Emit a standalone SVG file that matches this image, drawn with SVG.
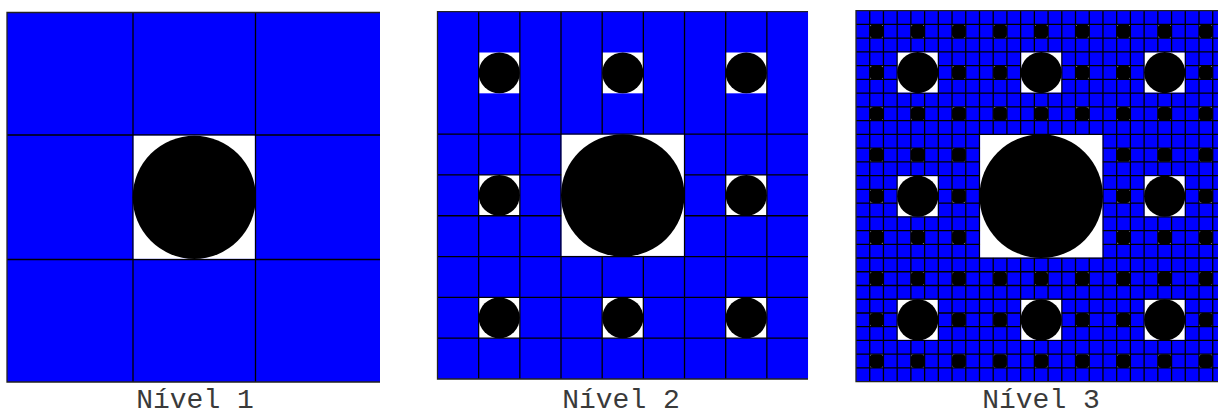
<svg xmlns="http://www.w3.org/2000/svg" xmlns:xlink="http://www.w3.org/1999/xlink" width="1220" height="416" viewBox="0 0 1220 416">
<style>
.bg{fill:#0000ff}
.grid{fill:none;stroke:#000;stroke-width:1.3;vector-effect:non-scaling-stroke}
.hole{fill:#fff}
.disc{fill:#000}
.edge{fill:none;stroke:#222;stroke-width:1.3;vector-effect:non-scaling-stroke}
.lbl{font-family:"Liberation Mono","Courier New",monospace;font-size:28px;fill:#3a3a3a;text-anchor:middle}
</style>
<defs>
  <clipPath id="clip3"><rect x="850" y="5" width="368" height="382"/></clipPath>
  <g id="dot"><rect class="hole" width="1" height="1"/><circle class="disc" cx="0.5" cy="0.5" r="0.5"/></g>
  <g id="dot3"><rect class="hole" width="1" height="1"/><rect class="disc" width="1" height="1" rx="0.27" ry="0.27"/></g>
  <g id="dots9">
    <use href="#dot" x="1" y="1"/><use href="#dot" x="4" y="1"/><use href="#dot" x="7" y="1"/>
    <use href="#dot" x="1" y="4"/><use href="#dot" x="7" y="4"/>
    <use href="#dot" x="1" y="7"/><use href="#dot" x="4" y="7"/><use href="#dot" x="7" y="7"/>
  </g>
  <g id="dots9s">
    <use href="#dot3" x="1" y="1"/><use href="#dot3" x="4" y="1"/><use href="#dot3" x="7" y="1"/>
    <use href="#dot3" x="1" y="4"/><use href="#dot3" x="7" y="4"/>
    <use href="#dot3" x="1" y="7"/><use href="#dot3" x="4" y="7"/><use href="#dot3" x="7" y="7"/>
  </g>
  <g id="sq3"><rect class="hole" x="0.047" y="0.047" width="2.906" height="2.906"/><circle class="disc" cx="1.5" cy="1.5" r="1.5"/></g>
</defs>

<!-- Nivel 1 -->
<g id="panel1">
  <rect class="bg" x="7" y="12.5" width="373" height="369.5"/>
  <path class="grid" d="M133 12.5V382M255.5 12.5V382M7 135H380M7 259.5H380"/>
  <rect class="hole" x="133.7" y="135.7" width="121.1" height="123.1"/>
  <circle class="disc" cx="194.3" cy="197.3" r="61.6"/>
  <path class="edge" d="M380 12.5H7V382H380"/>
</g>

<!-- Nivel 2 -->
<g id="panel2">
  <g transform="translate(437.5 11.7) scale(41.17 40.81)">
    <rect class="bg" width="9" height="9"/>
    <use href="#dots9"/>
    <path class="grid" d="M1 0V9M2 0V9M3 0V9M4 0V9M5 0V9M6 0V9M7 0V9M8 0V9M0 3H9M0 4H9M0 5H9M0 6H9M0 7H9M0 8H9"/>
    <rect class="hole" x="3.016" y="3.016" width="2.968" height="2.968"/>
    <circle class="disc" cx="4.5" cy="4.5" r="1.5"/>
    <path class="edge" d="M9 0H0V9H9"/>
  </g>
</g>

<!-- Nivel 3 -->
<g id="panel3" clip-path="url(#clip3)">
  <g transform="translate(856 10.7) scale(13.72 13.74)">
    <rect class="bg" width="27" height="27"/>
    <use href="#dots9s" x="0" y="0"/><use href="#dots9s" x="9" y="0"/><use href="#dots9s" x="18" y="0"/>
    <use href="#dots9s" x="0" y="9"/><use href="#dots9s" x="18" y="9"/>
    <use href="#dots9s" x="0" y="18"/><use href="#dots9s" x="9" y="18"/><use href="#dots9s" x="18" y="18"/>
    <path class="grid" d="M1 0V27M2 0V27M3 0V27M4 0V27M5 0V27M6 0V27M7 0V27M8 0V27M9 0V27M10 0V27M11 0V27M12 0V27M13 0V27M14 0V27M15 0V27M16 0V27M17 0V27M18 0V27M19 0V27M20 0V27M21 0V27M22 0V27M23 0V27M24 0V27M25 0V27M26 0V27M0 1H27M0 2H27M0 3H27M0 4H27M0 5H27M0 6H27M0 7H27M0 8H27M0 9H27M0 10H27M0 11H27M0 12H27M0 13H27M0 14H27M0 15H27M0 16H27M0 17H27M0 18H27M0 19H27M0 20H27M0 21H27M0 22H27M0 23H27M0 24H27M0 25H27M0 26H27"/>
    <use href="#sq3" x="3" y="3"/><use href="#sq3" x="12" y="3"/><use href="#sq3" x="21" y="3"/>
    <use href="#sq3" x="3" y="12"/><use href="#sq3" x="21" y="12"/>
    <use href="#sq3" x="3" y="21"/><use href="#sq3" x="12" y="21"/><use href="#sq3" x="21" y="21"/>
    <rect class="hole" x="9.047" y="9.047" width="8.906" height="8.906"/>
    <circle class="disc" cx="13.5" cy="13.5" r="4.5"/>
    <path class="edge" d="M27 0H0V27H27"/>
  </g>
</g>

<g id="labels">
  <text class="lbl" x="195" y="407.5">Nível 1</text>
  <text class="lbl" x="621" y="407.5">Nível 2</text>
  <text class="lbl" x="1041" y="407.5">Nível 3</text>
</g>
</svg>
